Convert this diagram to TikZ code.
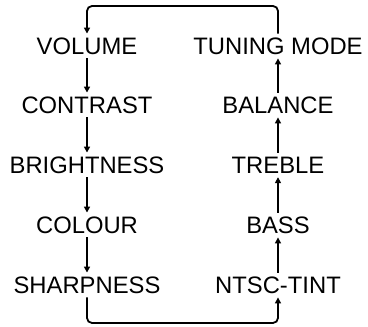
\documentclass[tikz,border=0pt]{standalone}
\usepackage{fontspec}
\setmainfont{Liberation Sans}
\usepackage{tikz}
\usetikzlibrary{arrows.meta,calc,positioning}

\tikzset{
  item/.style={inner sep=0pt,outer sep=4pt,font=\fontsize{23.8}{28}\selectfont},
  flow/.style={line width=1.8pt,-{Triangle[length=6pt,width=6pt]}}
}

\begin{document}
\begin{tikzpicture}[x=1pt,y=1pt,>=Stealth,thick]
\useasboundingbox (0,0) rectangle (368,327);

% --- left column ---
\node[item] (volume)     at (87,281) {VOLUME};
\node[item] (contrast)   at (87,222) {CONTRAST};
\node[item] (brightness) at (87,162) {BRIGHTNESS};
\node[item] (colour)     at (87,102) {COLOUR};
\node[item] (sharpness)  at (87,42)  {SHARPNESS};

% --- right column ---
\node[item] (tuning)  at (278,281) {TUNING MODE};
\node[item] (balance) at (278,222) {BALANCE};
\node[item] (treble)  at (278,162) {TREBLE};
\node[item] (bass)    at (278,102) {BASS};
\node[item] (ntsc)    at (278,42)  {NTSC-TINT};

% --- steps ---
\draw[flow] (volume) -- (contrast);
\draw[flow] (contrast) -- (brightness);
\draw[flow] (brightness) -- (colour);
\draw[flow] (colour) -- (sharpness);
\draw[flow] (ntsc) -- (bass);
\draw[flow] (bass) -- (treble);
\draw[flow] (treble) -- (balance);
\draw[flow] (balance) -- (tuning);

% --- loops ---
\draw[flow,rounded corners=5pt] (tuning.north) |- (87,321) -- (volume.north);
\draw[flow,rounded corners=5pt] (sharpness.south) |- (278,4) -- (ntsc.south);

\end{tikzpicture}
\end{document}
